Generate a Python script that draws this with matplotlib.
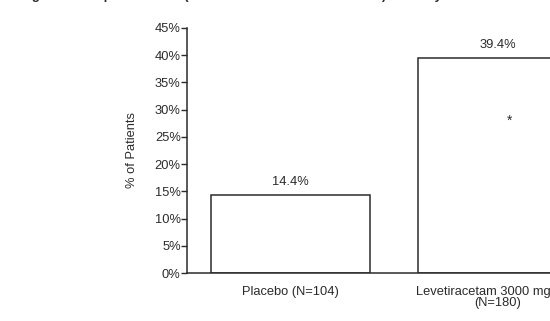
import matplotlib
matplotlib.use("Agg")
import matplotlib.pyplot as plt

# data
groups = ["Placebo (N=104)", "Levetiracetam 3000 mg"]
group_n = ["", "(N=180)"]
responders = [14.4, 39.4]
value_labels = ["14.4%", "39.4%"]
yticks = [0, 5, 10, 15, 20, 25, 30, 35, 40, 45]
title = "Figure 3: Responder Rate (\u226550% Reduction from Baseline) in Study 3"

plt.rcParams["font.family"] = ["Liberation Sans", "DejaVu Sans"]
ink = "#2b2b2b"

W, H = 550, 321
fig = plt.figure(figsize=(W / 100, H / 100), dpi=100)

# axes runs past the right edge of the figure, as in the cropped reference
x0, x1 = 187, 601
y0, y1 = 273, 28
ax = fig.add_axes([x0 / W, 1 - y0 / H, (x1 - x0) / W, (y0 - y1) / H])

x = list(range(len(groups)))
ax.bar(x, responders, width=0.768, color="white", edgecolor=ink, linewidth=1.1)

for xi, v, lab in zip(x, responders, value_labels):
    ax.text(xi, v + 1.3, lab, ha="center", va="bottom", fontsize=9.3, color=ink)

# significance marker inside the active bar
ax.text(1.06, 28.0, "*", ha="center", va="center", fontsize=10, color=ink)

ax.set_xlim(-0.5, 1.5)
ax.set_ylim(0, 45)
ax.set_yticks(yticks)
ax.set_yticklabels([f"{t}%" for t in yticks], fontsize=9.3, color=ink)
ax.set_xticks(x)
ax.set_xticklabels(["", ""])
ax.tick_params(axis="x", length=0)
ax.tick_params(axis="y", length=4, width=1, color=ink, pad=0.5)
ax.set_ylabel("% of Patients", fontsize=9.3, color=ink, labelpad=12)

# category labels under the bars (first line of the long one sits a bit left)
label_dx = [0, -0.07]
for xi, name, n, dx in zip(x, groups, group_n, label_dx):
    ax.text(xi + dx, -2.4, name, ha="center", va="top", fontsize=9.3, color=ink)
    if n:
        ax.text(xi, -4.4, n, ha="center", va="top", fontsize=9.3, color=ink)

for side in ["top", "right"]:
    ax.spines[side].set_visible(False)
for side in ["left", "bottom"]:
    ax.spines[side].set_color(ink)
    ax.spines[side].set_linewidth(1.1)

# the chart title is cut off at the top of the reference image
fig.text(20 / W, 1 + 1.5 / H, title, ha="left", va="baseline",
         fontsize=9.5, fontweight="bold", color=ink)

fig.savefig("out.png", dpi=100)
